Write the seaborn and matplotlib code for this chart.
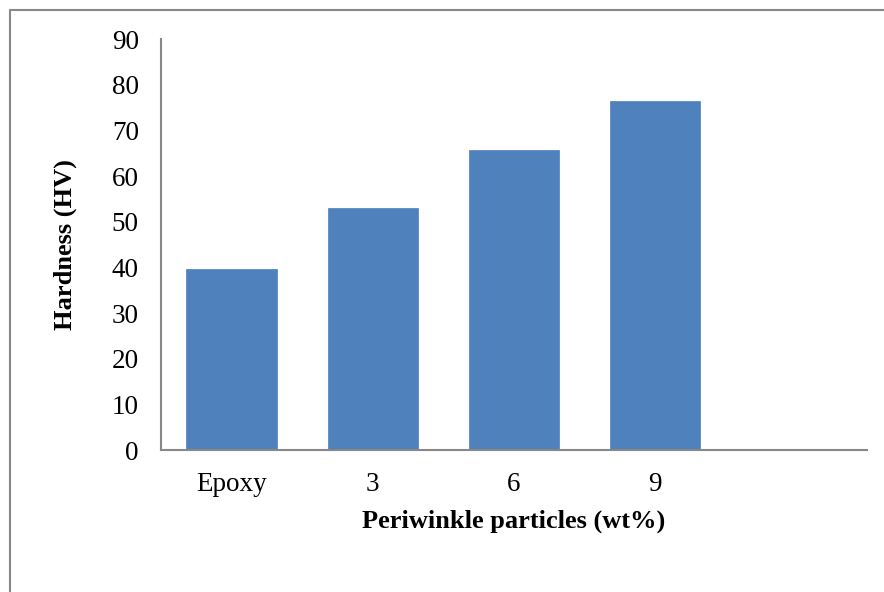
import matplotlib
matplotlib.use("Agg")
import matplotlib.pyplot as plt
import seaborn as sns
import pandas as pd
from matplotlib.lines import Line2D

categories = ["Epoxy", "3", "6", "9"]
hardness = [39.7, 53.0, 65.7, 76.4]
yticks = [0, 10, 20, 30, 40, 50, 60, 70, 80, 90]

sns.set_theme(style="white")
plt.rcParams['font.family'] = ['Liberation Serif', 'DejaVu Serif']
plt.rcParams['text.color'] = 'black'
plt.rcParams['axes.labelcolor'] = 'black'

df = pd.DataFrame({"cat": categories, "val": hardness})

fig = plt.figure(figsize=(8.84, 5.92), dpi=100)
ax = fig.add_axes([161/884, 1-450/592, (867-161)/884, (450-39.3)/592])

sns.barplot(data=df, x="cat", y="val", order=categories, color="#4F81BD",
            saturation=1, width=0.64, ax=ax, edgecolor="#4F81BD", linewidth=0.5)

ax.set_xlim(-0.5, 4.5)
ax.set_ylim(0, 90)
ax.set_yticks(yticks)
ax.set_yticklabels([str(t) for t in yticks])
ax.tick_params(axis='x', length=0, pad=16, labelsize=19.5, colors='black')
ax.tick_params(axis='y', length=0, pad=16, labelsize=19.5, colors='black')

for s in ["top", "right"]:
    ax.spines[s].set_visible(False)
for s in ["left", "bottom"]:
    ax.spines[s].set_color("#888888")
    ax.spines[s].set_linewidth(1.5)

ax.set_xlabel("Periwinkle particles (wt%)", fontsize=19, fontweight="bold",
              labelpad=9, color="black")
ax.set_ylabel("Hardness (HV)", fontsize=19, fontweight="bold", labelpad=25,
              color="black")

# outer chart border (partially cropped)
fig.add_artist(Line2D([10/884, 10/884, 1.0], [0.0, 1-10/592, 1-10/592],
                      transform=fig.transFigure, color="#888888", linewidth=1.5))

fig.savefig("out.png", dpi=100)
